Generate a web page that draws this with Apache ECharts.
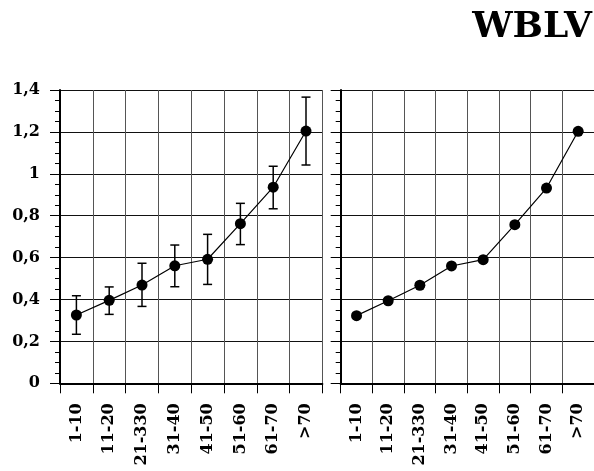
<!DOCTYPE html>
<html>
<head>
<meta charset="utf-8">
<script src="https://cdn.jsdelivr.net/npm/echarts@6/dist/echarts.min.js"></script>
<style>
html,body{margin:0;padding:0;background:#fff;}
#chart{width:594px;height:471px;}
</style>
</head>
<body>
<div id="chart"></div>
<script>
var titleText = 'WBLV';
var categories = ['1-10', '11-20', '21-330', '31-40', '41-50', '51-60', '61-70', '>70'];
var yTicks = [0, 0.2, 0.4, 0.6, 0.8, 1, 1.2, 1.4];

var meanLeft  = [0.326, 0.396, 0.469, 0.561, 0.592, 0.762, 0.936, 1.204];
var lowLeft   = [0.234, 0.329, 0.367, 0.461, 0.472, 0.662, 0.833, 1.042];
var highLeft  = [0.418, 0.460, 0.573, 0.660, 0.711, 0.859, 1.036, 1.366];

var meanRight = [0.323, 0.394, 0.468, 0.560, 0.590, 0.757, 0.932, 1.203];
var lowRight  = [0.313, 0.386, 0.459, 0.551, 0.580, 0.747, 0.921, 1.194];
var highRight = [0.333, 0.402, 0.477, 0.569, 0.600, 0.767, 0.943, 1.212];

var FONT = 'DejaVu Serif';

function errData(low, high) {
  return categories.map(function (c, i) { return [i, low[i], high[i]]; });
}

function errRender(params, api) {
  var x = api.value(0);
  var lo = api.coord([x, api.value(1)]);
  var hi = api.coord([x, api.value(2)]);
  var half = 4.5;
  var style = { stroke: '#000', lineWidth: 1.5 };
  return {
    type: 'group',
    children: [
      { type: 'line', shape: { x1: lo[0], y1: lo[1], x2: hi[0], y2: hi[1] }, style: style },
      { type: 'line', shape: { x1: lo[0] - half, y1: lo[1], x2: lo[0] + half, y2: lo[1] }, style: style },
      { type: 'line', shape: { x1: hi[0] - half, y1: hi[1], x2: hi[0] + half, y2: hi[1] }, style: style }
    ]
  };
}

function xAxisDef(idx) {
  return {
    type: 'category',
    gridIndex: idx,
    data: categories,
    boundaryGap: true,
    axisLine: { show: true, lineStyle: { color: '#000', width: 2 } },
    axisTick: { show: true, length: 10, lineStyle: { color: '#000', width: 1 } },
    axisLabel: {
      rotate: 90, margin: 20, interval: 0,
      fontFamily: FONT, fontWeight: 'bold', fontSize: 16, color: '#000'
    },
    splitLine: { show: true, lineStyle: { color: '#555', width: 1 } }
  };
}

function yAxisDef(idx, showLabels) {
  return {
    type: 'value',
    gridIndex: idx,
    min: yTicks[0],
    max: yTicks[yTicks.length - 1],
    interval: 0.2,
    axisLine: { show: true, lineStyle: { color: '#000', width: 2 } },
    axisTick: { show: true, length: 10, lineStyle: { color: '#000', width: 1 } },
    minorTick: { show: true, splitNumber: 4, length: 5, lineStyle: { color: '#000', width: 1 } },
    axisLabel: {
      show: showLabels, margin: 20,
      fontFamily: FONT, fontWeight: 'bold', fontSize: 16, color: '#000',
      formatter: function (v) { return String(Math.round(v * 10) / 10).replace('.', ','); }
    },
    splitLine: { show: true, lineStyle: { color: '#111', width: 1 } }
  };
}

var chart = echarts.init(document.getElementById('chart'), null, { renderer: 'canvas' });
chart.setOption({
  animation: false,
  backgroundColor: '#fff',
  title: {
    text: titleText,
    right: 2, top: 10, padding: 0,
    textStyle: { fontFamily: 'DejaVu Serif', fontWeight: 'bold', fontSize: 36, color: '#000' }
  },
  grid: [
    { left: 60, top: 90, width: 262.4, height: 293.3, containLabel: false },
    { left: 340.7, top: 90, width: 262.4, height: 293.3, containLabel: false }
  ],
  xAxis: [xAxisDef(0), xAxisDef(1)],
  yAxis: [yAxisDef(0, true), yAxisDef(1, false)],
  series: [
    {
      type: 'custom', xAxisIndex: 0, yAxisIndex: 0,
      renderItem: errRender, data: errData(lowLeft, highLeft), z: 3
    },
    {
      type: 'line', xAxisIndex: 0, yAxisIndex: 0, data: meanLeft,
      symbol: 'circle', symbolSize: 11,
      itemStyle: { color: '#000' }, lineStyle: { color: '#000', width: 1.2 }, z: 4
    },
    {
      type: 'custom', xAxisIndex: 1, yAxisIndex: 1,
      renderItem: errRender, data: errData(lowRight, highRight), z: 3
    },
    {
      type: 'line', xAxisIndex: 1, yAxisIndex: 1, data: meanRight,
      symbol: 'circle', symbolSize: 11,
      itemStyle: { color: '#000' }, lineStyle: { color: '#000', width: 1.2 }, z: 4
    }
  ]
});
</script>
</body>
</html>
